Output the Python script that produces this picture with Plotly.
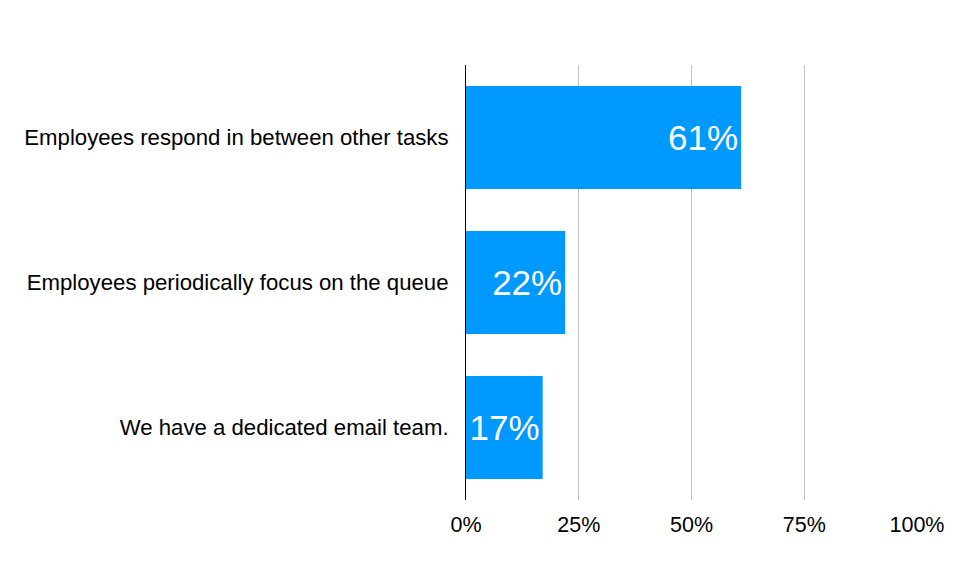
import plotly.graph_objects as go

categories = ["Employees respond in between other tasks",
              "Employees periodically focus on the queue",
              "We have a dedicated email team."]
values = [0.61, 0.22, 0.17]
labels = ["61%", "22%", "17%"]
tick_vals = [0, 0.25, 0.5, 0.75, 1.0]
tick_text = ["0%", "25%", "50%", "75%", "100%"]

FONT = "Liberation Sans, Arial, sans-serif"

fig = go.Figure(go.Bar(
    y=categories, x=values, orientation="h",
    marker=dict(color="#0099ff", line=dict(width=0)),
    text=labels, textposition="inside", insidetextanchor="end",
    textfont=dict(color="white", size=35, family=FONT),
    constraintext="none", cliponaxis=False, hoverinfo="skip",
))

fig.update_layout(
    width=970, height=559,
    margin=dict(l=458, r=61, t=57, b=67),
    paper_bgcolor="white", plot_bgcolor="white",
    bargap=0.29, showlegend=False,
    font=dict(family=FONT, color="black", size=21.5),
)
fig.update_xaxes(range=[0, 1], tickvals=tick_vals, ticktext=tick_text,
                 showgrid=True, gridcolor="#c0c0c0", gridwidth=1,
                 zeroline=False, showline=False, ticks="",
                 ticklabelstandoff=9, tickfont=dict(size=21.5))
fig.update_yaxes(autorange="reversed", showline=True, linecolor="black", linewidth=1,
                 showgrid=False, ticks="", ticklabelstandoff=12, tickfont=dict(size=22.2))

fig.write_html("out.html")
